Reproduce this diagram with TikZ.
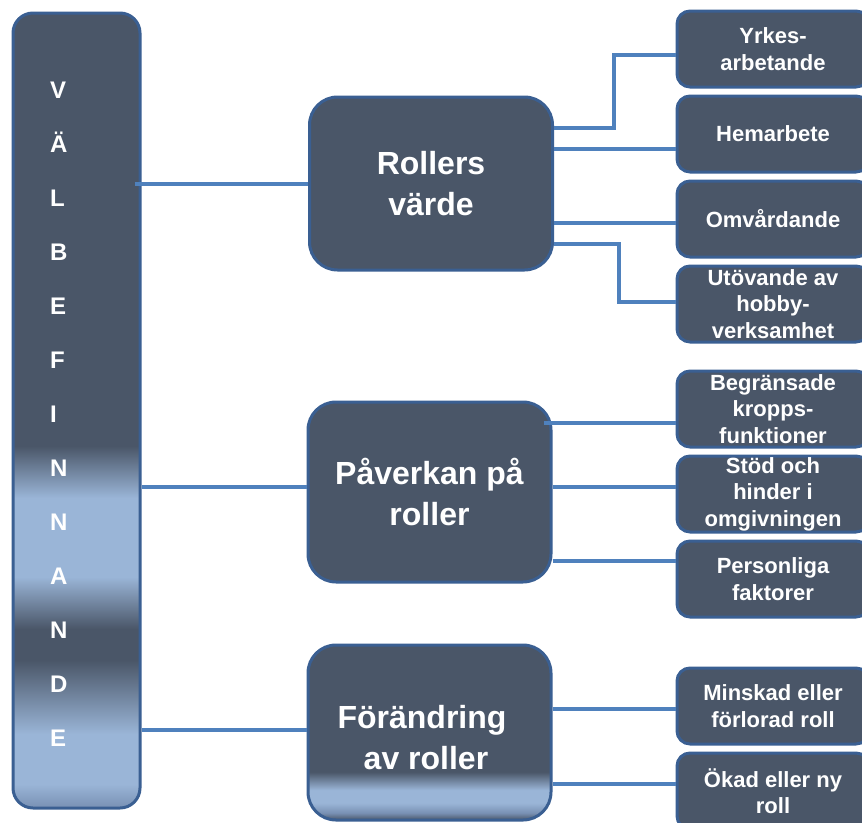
\documentclass[tikz,border=0pt]{standalone}
\usepackage{fontspec}
\setmainfont{Liberation Sans}
\usetikzlibrary{calc}
\definecolor{boxfill}{HTML}{4A5668}
\definecolor{boxborder}{HTML}{3A5F92}
\definecolor{conncol}{HTML}{4F81BD}
\definecolor{lightblue}{HTML}{9AB5D7}
\definecolor{midblue}{HTML}{7890B3}
\pgfdeclareverticalshading{barshade}{100bp}{color(0bp)=(midblue); color(25bp)=(midblue); color(26.5bp)=(lightblue); color(29.65bp)=(lightblue); color(34.31bp)=(boxfill); color(36.26bp)=(boxfill); color(39.53bp)=(lightblue); color(44.5bp)=(lightblue); color(47.77bp)=(boxfill); color(75bp)=(boxfill); color(100bp)=(boxfill)}
\pgfdeclareverticalshading{boxshade}{100bp}{color(0bp)=(boxfill); color(25bp)=(boxfill); color(27bp)=(midblue); color(29.86bp)=(lightblue); color(33.57bp)=(lightblue); color(38.71bp)=(boxfill); color(75bp)=(boxfill); color(100bp)=(boxfill)}
\tikzset{
  mainbox/.style={draw=boxborder, line width=3pt, fill=boxfill, rounded corners=28pt, minimum width=243pt, inner sep=0pt, text=white, font=\bfseries\fontsize{32}{41}\selectfont, align=center},
  maintext/.style={inner sep=0pt, text=white, font=\bfseries\fontsize{32}{41}\selectfont, align=center},
  subbox/.style={draw=boxborder, line width=3pt, fill=boxfill, rounded corners=13pt, minimum width=192pt, minimum height=76pt, inner sep=0pt, text=white, font=\bfseries\fontsize{22}{26.5}\selectfont, align=center},
  barbox/.style={draw=boxborder, line width=3pt, rounded corners=20pt, shade, shading=barshade, minimum width=127pt, minimum height=795pt, inner sep=0pt},
  barletter/.style={text=white, font=\bfseries\fontsize{24}{24}\selectfont, inner sep=0pt},
  conn/.style={draw=conncol, line width=4pt},
}
\begin{document}
\begin{tikzpicture}[x=1pt, y=-1pt]
\useasboundingbox (0,0) rectangle (862,822);
\clip (0,0) rectangle (862,822);
\fill[white] (0,0) rectangle (862,822);
% left bar
\node[barbox] (bar) at (76.5,410.5) {};
\foreach \ch [count=\i from 0] in {V,Ä,L,B,E,F,I,N,N,A,N,D,E} {
  \node[barletter, anchor=base west] (ltr\i) at (50, 98+54*\i) {\ch};
}
% main boxes
\node[mainbox, minimum height=173pt] (rv) at (431,183.5) {Rollers\\värde};
\node[mainbox, minimum height=180pt] (pr) at (429.5,492) {Påverkan på\\roller};
\node[mainbox, minimum height=175pt, shade, shading=boxshade] (fa) at (429.5,732.5) {};
\node[maintext] (fat) at (422,738) {Förändring\\\hspace*{8pt}av roller};
% sub boxes
\node[subbox] (yr) at (773,49) {Yrkes-\\arbetande};
\node[subbox] (hb) at (773,134) {Hemarbete};
\node[subbox] (om) at (773,219) {Omvårdande};
\node[subbox] (ut) at (773,304) {Utövande av\\hobby-\\verksamhet};
\node[subbox] (bk) at (773,409) {Begränsade\\kropps-\\funktioner};
\node[subbox] (sh) at (773,494) {Stöd och\\hinder i\\omgivningen};
\node[subbox] (pf) at (773,579) {Personliga\\faktorer};
\node[subbox] (mf) at (773,706) {Minskad eller\\förlorad roll};
\node[subbox] (on) at (773,791) {Ökad eller ny\\roll};
% connectors from bar
\draw[conn] ([xshift=-7pt]bar.east |- rv.west) -- (rv.west);
\draw[conn] (bar.east |- 0,487) -- (pr.west |- 0,487);
\draw[conn] (bar.east |- 0,730) -- (fa.west |- 0,730);
% connectors Rollers värde
\draw[conn] (rv.east |- 0,128) -| (614,55) -- (yr.west |- 0,55);
\draw[conn] (rv.east |- 0,149) -- (hb.west |- 0,149);
\draw[conn] (rv.east |- 0,223) -- (om.west |- 0,223);
\draw[conn] (rv.east |- 0,244) -| (619,302) -- (ut.west |- 0,302);
% connectors Påverkan
\draw[conn] ([xshift=-9pt]pr.east |- 0,423) -- (bk.west |- 0,423);
\draw[conn] (pr.east |- 0,487) -- (sh.west |- 0,487);
\draw[conn] (pr.east |- 0,561) -- (pf.west |- 0,561);
% connectors Förändring
\draw[conn] (fa.east |- 0,709) -- (mf.west |- 0,709);
\draw[conn] (fa.east |- 0,784) -- (on.west |- 0,784);
\end{tikzpicture}
\end{document}
